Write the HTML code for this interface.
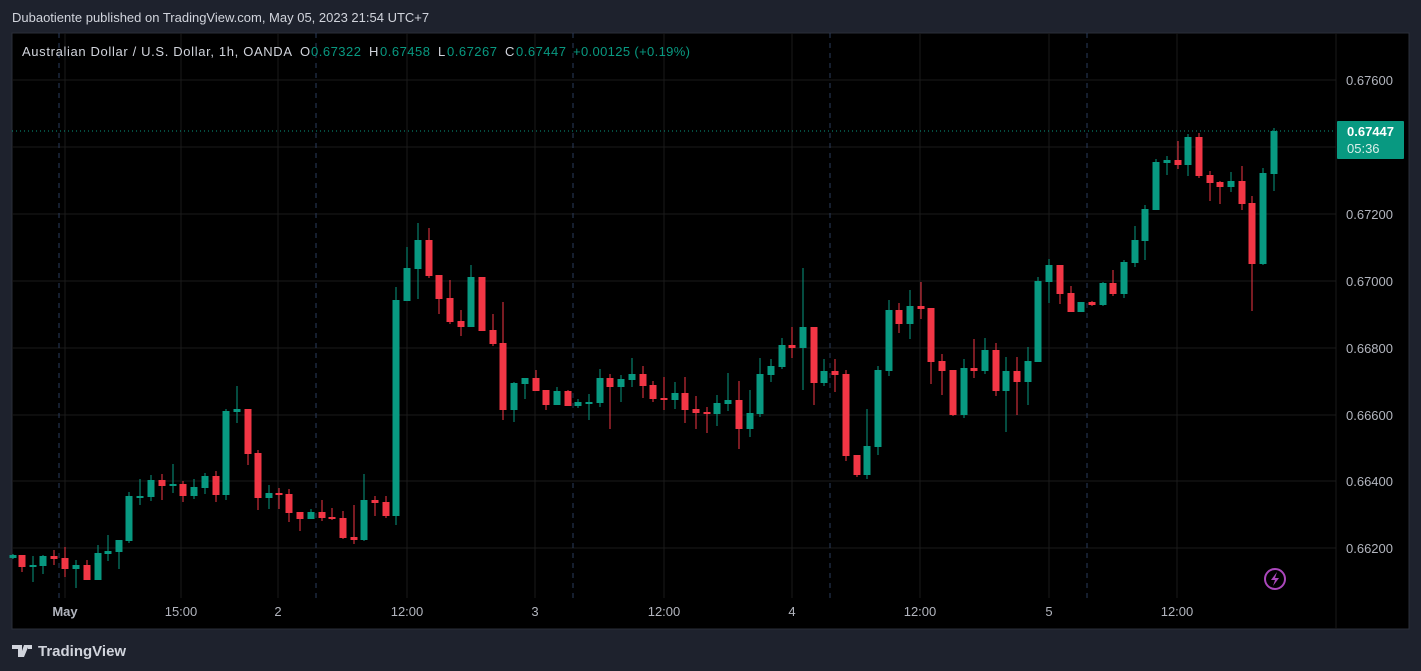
<!DOCTYPE html>
<html><head><meta charset="utf-8"><style>
html,body{margin:0;padding:0;background:#1e222d;width:1421px;height:671px;overflow:hidden;font-family:"Liberation Sans",sans-serif}
svg{position:absolute;left:0;top:0}
</style></head><body>
<svg id="s" width="1421" height="671" xmlns="http://www.w3.org/2000/svg">
<rect x="0" y="0" width="1421" height="671" fill="#1e222d"/>
<rect x="12" y="33" width="1397" height="596" fill="#000" stroke="#2a2e39" stroke-width="1"/>
<g id="grid"></g>
<g id="c"></g>
<line x1="12" y1="131" x2="1336" y2="131" stroke="#089981" stroke-dasharray="1,3" stroke-width="1"/>
<rect x="1337" y="121" width="67" height="38" rx="1" fill="#089981"/>
<text x="1347" y="136" fill="#fff" font-size="13" font-weight="bold">0.67447</text>
<text x="1347" y="153" fill="#d9efe9" font-size="13">05:36</text>
<g fill="#b2b5be" font-size="13">
<text x="1346" y="85">0.67600</text>
<text x="1346" y="219">0.67200</text>
<text x="1346" y="286">0.67000</text>
<text x="1346" y="353">0.66800</text>
<text x="1346" y="420">0.66600</text>
<text x="1346" y="486">0.66400</text>
<text x="1346" y="553">0.66200</text>
<text x="65" y="616" text-anchor="middle" font-weight="bold">May</text>
<text x="181" y="616" text-anchor="middle">15:00</text>
<text x="278" y="616" text-anchor="middle">2</text>
<text x="407" y="616" text-anchor="middle">12:00</text>
<text x="535" y="616" text-anchor="middle">3</text>
<text x="664" y="616" text-anchor="middle">12:00</text>
<text x="792" y="616" text-anchor="middle">4</text>
<text x="920" y="616" text-anchor="middle">12:00</text>
<text x="1049" y="616" text-anchor="middle">5</text>
<text x="1177" y="616" text-anchor="middle">12:00</text>
</g>
<text x="12" y="22" fill="#d1d4dc" font-size="13">Dubaotiente published on TradingView.com, May 05, 2023 21:54 UTC+7</text>
<g font-size="13" fill="#d1d4dc">
<text x="22" y="56" textLength="270">Australian Dollar / U.S. Dollar, 1h, OANDA</text>
<text x="300" y="56">O</text><text x="311" y="56" fill="#089981" textLength="50">0.67322</text>
<text x="369" y="56">H</text><text x="380" y="56" fill="#089981" textLength="50">0.67458</text>
<text x="438" y="56">L</text><text x="447" y="56" fill="#089981" textLength="50">0.67267</text>
<text x="505" y="56">C</text><text x="516" y="56" fill="#089981" textLength="50">0.67447</text>
<text x="573" y="56" fill="#089981" textLength="117">+0.00125 (+0.19%)</text>
</g>
<circle cx="1275" cy="579" r="10" fill="none" stroke="#ab47bc" stroke-width="2"/>
<path d="M1277 572 L1271 580 L1275 580 L1273 586 L1279 578 L1275 578 Z" fill="#ab47bc"/>
<text x="38" y="656" fill="#d1d4dc" font-size="15" font-weight="bold">TradingView</text>
<path d="M12 645 h10 v12 h-4 v-8 h-6 z M24 645 h5 l-5 12 h-4 z M28 645 h4 v4 h-4z" fill="#d1d4dc"/>
</svg>
<script>
var NS="http://www.w3.org/2000/svg";
function el(p,t,a){var e=document.createElementNS(NS,t);for(var k in a)e.setAttribute(k,a[k]);p.appendChild(e);return e;}
var g=document.getElementById("grid");
[80,147,214,281,348,415,481,548].forEach(function(y){el(g,"line",{x1:12,x2:1336,y1:y,y2:y,stroke:"#1a1a1a","stroke-width":1});});
[65,181,278,407,535,664,792,920,1049,1177].forEach(function(x){el(g,"line",{x1:x,x2:x,y1:33,y2:598,stroke:"#1a1a1a","stroke-width":1});});
[59,316,573,830,1087].forEach(function(x){el(g,"line",{x1:x,x2:x,y1:33,y2:598,stroke:"#2a3b5c","stroke-width":1,"stroke-dasharray":"5,5"});});
el(g,"line",{x1:1336,x2:1336,y1:33,y2:629,stroke:"#1a1a1a"});
var d=[
[13,555,558,554,559,1],[22,555,567,555,572,0],[33,565,567,556,582,1],[43,556,566,555,574,1],[54,556,559,550,565,0],
[65,558,569,547,577,0],[76,565,569,560,588,1],[87,565,580,560,580,0],[98,553,580,545,580,1],[108,551,554,535,561,1],
[119,540,552,540,569,1],[129,496,541,492,543,1],[140,496,497,479,505,1],[151,480,497,475,501,1],[162,480,486,474,500,0],
[173,484,486,464,493,1],[183,484,496,481,502,0],[194,487,496,479,499,1],[205,476,488,473,494,1],[216,476,495,471,502,0],
[226,411,495,409,500,1],[237,409,412,386,423,1],[248,409,454,409,465,0],[258,453,498,450,510,0],[269,493,498,485,509,1],
[279,493,495,488,509,0],[289,494,513,489,522,0],[300,512,519,512,531,0],[311,512,519,509,519,1],[322,512,518,500,521,0],
[332,517,519,508,520,0],[343,518,538,511,539,0],[354,537,540,505,544,0],[364,500,540,474,541,1],[375,500,503,496,516,0],
[386,502,516,496,518,0],[396,300,516,287,525,1],[407,268,301,247,301,1],[418,240,269,223,299,1],[429,240,276,228,278,0],
[439,275,299,275,314,0],[450,298,322,280,324,0],[461,321,327,310,336,0],[471,277,327,265,327,1],[482,277,331,277,331,0],
[493,330,344,314,346,0],[503,343,410,302,420,0],[514,383,410,382,422,1],[525,378,384,378,399,1],[536,378,391,370,391,0],
[546,390,405,390,410,0],[557,391,405,387,405,1],[568,391,406,390,406,0],[578,402,406,399,408,1],[589,402,403,394,420,1],
[600,378,403,369,407,1],[610,378,387,374,429,0],[621,379,387,375,402,1],[632,374,380,358,387,1],[643,374,386,366,398,0],
[653,385,399,381,402,0],[664,398,400,377,410,0],[675,393,400,382,409,1],[685,393,410,377,423,0],[696,409,413,396,429,0],
[707,412,414,407,433,0],[717,403,414,395,426,1],[728,400,404,373,411,1],[739,400,429,381,449,0],[750,413,429,390,437,1],
[760,374,414,358,417,1],[771,366,375,359,382,1],[782,345,367,338,369,1],[792,345,348,327,358,0],[803,327,348,268,390,1],
[814,327,383,327,405,0],[824,371,383,359,386,1],[835,371,375,359,392,0],[846,374,456,370,461,0],[857,455,475,455,477,0],
[867,446,475,409,479,1],[878,370,447,366,455,1],[889,310,371,300,376,1],[899,310,324,303,333,0],[910,306,324,290,339,1],
[921,306,309,282,319,0],[931,308,362,308,384,0],[942,361,371,354,395,0],[953,370,415,370,416,0],[964,368,415,359,418,1],
[974,368,371,339,378,0],[985,350,371,338,374,1],[996,350,391,343,396,0],[1006,371,391,357,432,1],[1017,371,382,357,415,0],
[1028,361,382,347,405,1],[1038,281,362,277,362,1],[1049,265,282,259,303,1],[1060,265,294,265,304,0],[1071,293,312,286,312,0],
[1081,302,312,302,312,1],[1092,302,305,301,306,0],[1103,283,305,282,306,1],[1113,283,294,270,296,0],[1124,262,294,260,298,1],
[1135,240,263,226,267,1],[1145,209,241,205,260,1],[1156,162,210,159,210,1],[1167,160,163,156,175,1],[1178,160,165,141,169,0],
[1188,137,165,134,176,1],[1199,137,176,133,178,0],[1210,175,183,171,201,0],[1220,182,187,181,204,0],[1231,181,187,172,192,1],
[1242,181,204,166,210,0],[1252,203,264,196,311,0],[1263,173,264,168,265,1],[1274,131,174,128,191,1]
];
var c=document.getElementById("c");
d.forEach(function(a){var col=a[5]?"#089981":"#f23645";
el(c,"rect",{x:a[0]-0.5,y:a[3],width:1,height:Math.max(1,a[4]-a[3]),fill:col});
el(c,"rect",{x:a[0]-3.5,y:a[1],width:7,height:Math.max(2,a[2]-a[1]),fill:col});});
</script>
</body></html>
